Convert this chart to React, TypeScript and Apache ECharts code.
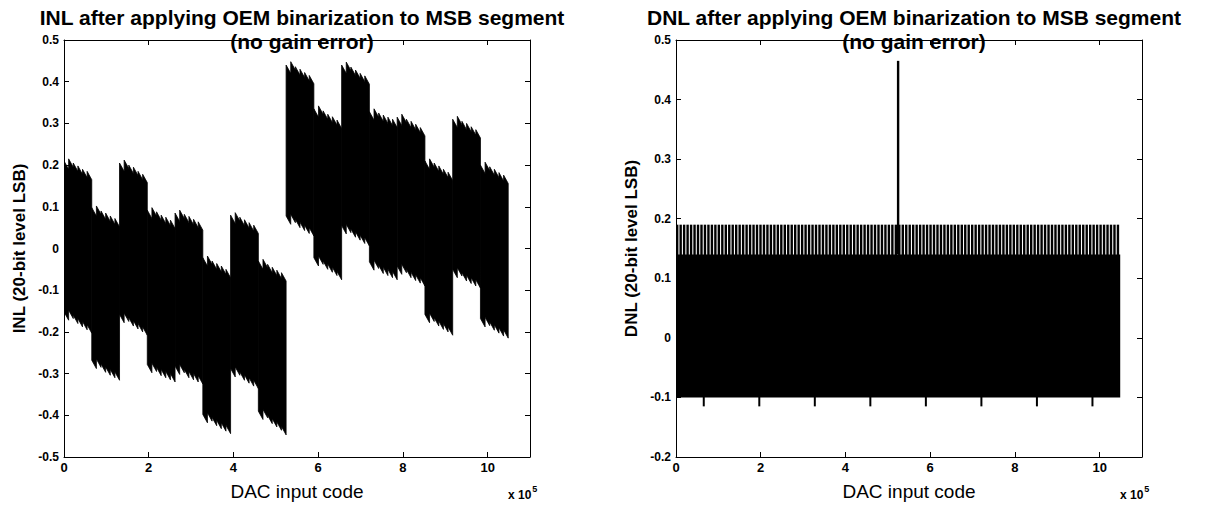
import React, { useEffect, useRef } from "react";
import * as echarts from "echarts";

// ---------- data ----------
const SEGMENT_CODES = 65536; // one MSB segment
const TOTAL_CODES = 1048576; // 2^20
const TOOTH_DROP = 0.02; // depth of each saw tooth (LSB)

// INL: upper envelope, tooth peaks (6 per MSB segment)
const INL_TOP: number[][] = [
  [0.21, 0.215, 0.205, 0.198, 0.19, 0.185],
  [0.098, 0.102, 0.09, 0.085, 0.078, 0.072],
  [0.205, 0.212, 0.2, 0.195, 0.185, 0.178],
  [0.092, 0.098, 0.088, 0.08, 0.075, 0.068],
  [0.085, 0.092, 0.082, 0.077, 0.07, 0.064],
  [-0.022, -0.018, -0.03, -0.036, -0.042, -0.05],
  [0.08, 0.086, 0.075, 0.069, 0.062, 0.056],
  [-0.03, -0.026, -0.038, -0.045, -0.052, -0.058],
  [0.44, 0.448, 0.436, 0.43, 0.422, 0.415],
  [0.335, 0.342, 0.33, 0.322, 0.316, 0.308],
  [0.44, 0.447, 0.435, 0.428, 0.42, 0.414],
  [0.328, 0.335, 0.325, 0.32, 0.315, 0.31],
  [0.315, 0.322, 0.31, 0.305, 0.298, 0.29],
  [0.21, 0.215, 0.205, 0.198, 0.19, 0.183],
  [0.31, 0.317, 0.305, 0.3, 0.292, 0.285],
  [0.2, 0.207, 0.196, 0.19, 0.182, 0.176],
];

// INL: lower envelope, tooth peaks (6 per MSB segment)
const INL_BOTTOM: number[][] = [
  [-0.152, -0.148, -0.16, -0.168, -0.175, -0.183],
  [-0.268, -0.265, -0.277, -0.284, -0.29, -0.296],
  [-0.158, -0.155, -0.166, -0.173, -0.18, -0.188],
  [-0.278, -0.275, -0.285, -0.29, -0.295, -0.3],
  [-0.282, -0.278, -0.29, -0.295, -0.3, -0.305],
  [-0.398, -0.394, -0.405, -0.412, -0.418, -0.424],
  [-0.288, -0.284, -0.296, -0.303, -0.31, -0.316],
  [-0.39, -0.386, -0.4, -0.408, -0.416, -0.427],
  [0.078, 0.082, 0.07, 0.063, 0.056, 0.05],
  [-0.022, -0.018, -0.03, -0.037, -0.045, -0.055],
  [0.055, 0.058, 0.047, 0.04, 0.032, 0.026],
  [-0.032, -0.028, -0.04, -0.045, -0.05, -0.055],
  [-0.042, -0.038, -0.05, -0.057, -0.063, -0.07],
  [-0.158, -0.155, -0.166, -0.174, -0.18, -0.188],
  [-0.05, -0.046, -0.058, -0.064, -0.07, -0.075],
  [-0.168, -0.165, -0.176, -0.183, -0.19, -0.195],
];

// DNL
const DNL_BAND = [-0.1, 0.14]; // solid body
const DNL_COMB_TOP = 0.19; // comb of spikes above the body
const DNL_COMB_STEP = 8192; // codes between comb spikes
const DNL_DOWN_SPIKES = [65536, 196608, 327680, 458752, 589824, 720896, 851968, 983040];
const DNL_DOWN_VALUE = -0.115;
const DNL_UP_SPIKE = [524288, 0.465];

// axes
const X_MAX = 1100000;
const X_INTERVAL = 200000;
const X_LABEL_MAX = 10; // last labelled tick (x 10^5)
const INL_Y = [-0.5, 0.5];
const DNL_Y = [-0.2, 0.5];
const Y_INTERVAL = 0.1;

const TITLES = [
  "INL after applying OEM binarization to MSB segment\n(no gain error)",
  "DNL after applying OEM binarization to MSB segment\n(no gain error)",
];
const Y_NAMES = ["INL (20-bit level LSB)", "DNL (20-bit level LSB)"];
const X_NAME = "DAC input code";

// ---------- layout ----------
const FONT = "Liberation Sans, Arial, sans-serif";
const GRIDS = [
  { left: 64, top: 40, width: 466, height: 419 },
  { left: 676, top: 40, width: 466, height: 419 },
];

export default function App() {
  const ref = useRef<HTMLDivElement>(null);

  useEffect(() => {
    if (!ref.current) return;
    const chart = echarts.init(ref.current, undefined, { renderer: "svg" });

    const xAxes: any[] = [];
    const yAxes: any[] = [];
    GRIDS.forEach((_, gi) => {
      const base = {
        type: "value",
        gridIndex: gi,
        min: 0,
        max: X_MAX,
        interval: X_INTERVAL,
        axisLine: { show: true, onZero: false, lineStyle: { color: "#000", width: 1 } },
        axisTick: { show: true, inside: true, length: 5, lineStyle: { color: "#000" } },
        splitLine: { show: false },
      };
      xAxes.push({
        ...base,
        position: "bottom",
        axisLabel: {
          show: true,
          color: "#000",
          fontFamily: FONT,
          fontWeight: "bold",
          fontSize: 13,
          margin: 4,
          formatter: (v: number) => {
            const n = Math.round(v / 1e5);
            return n > X_LABEL_MAX ? "" : String(n);
          },
        },
        name: X_NAME,
        nameLocation: "middle",
        nameGap: 25,
        nameTextStyle: { color: "#000", fontFamily: FONT, fontSize: 19 },
      });
      xAxes.push({ ...base, position: "top", axisLabel: { show: false } });
      const yr = gi === 0 ? INL_Y : DNL_Y;
      const ybase = {
        type: "value",
        gridIndex: gi,
        min: yr[0],
        max: yr[1],
        interval: Y_INTERVAL,
        axisLine: { show: true, onZero: false, lineStyle: { color: "#000", width: 1 } },
        axisTick: { show: true, inside: true, length: 5, lineStyle: { color: "#000" } },
        splitLine: { show: false },
      };
      yAxes.push({
        ...ybase,
        position: "left",
        axisLabel: {
          show: true,
          color: "#000",
          fontFamily: FONT,
          fontWeight: "bold",
          fontSize: 12,
          margin: 5,
          formatter: (v: number) => (Math.abs(v) < 1e-9 ? "0" : v.toFixed(1)),
        },
        name: Y_NAMES[gi],
        nameLocation: "middle",
        nameRotate: 90,
        nameGap: 36,
        nameTextStyle: { color: "#000", fontFamily: FONT, fontSize: 17, fontWeight: "bold" },
      });
      yAxes.push({ ...ybase, position: "right", axisLabel: { show: false } });
    });

    const black = { fill: "#000", stroke: "#000", lineWidth: 0.8 };

    const inlSeries = {
      type: "custom",
      xAxisIndex: 0,
      yAxisIndex: 0,
      clip: true,
      data: INL_TOP.map((_, k) => [k * SEGMENT_CODES, 0]),
      renderItem: (params: any, api: any) => {
        const k = params.dataIndex;
        const top = INL_TOP[k];
        const bot = INL_BOTTOM[k];
        const n = top.length;
        const x0 = k * SEGMENT_CODES;
        const w = SEGMENT_CODES / n;
        const pts: number[][] = [];
        for (let i = 0; i < n; i++) {
          pts.push(api.coord([x0 + i * w, top[i]]));
          pts.push(api.coord([x0 + (i + 1) * w, top[i] - TOOTH_DROP]));
        }
        for (let i = n - 1; i >= 0; i--) {
          pts.push(api.coord([x0 + (i + 1) * w, bot[i] - TOOTH_DROP]));
          pts.push(api.coord([x0 + i * w, bot[i]]));
        }
        return { type: "polygon", shape: { points: pts }, style: black };
      },
    };

    const combData: number[][] = [];
    for (let x = 0; x < TOTAL_CODES; x += DNL_COMB_STEP) combData.push([x, DNL_COMB_TOP]);

    const dnlBody = {
      type: "custom",
      xAxisIndex: 2,
      yAxisIndex: 2,
      data: [[0, DNL_BAND[0], TOTAL_CODES, DNL_BAND[1]]],
      renderItem: (params: any, api: any) => {
        const p0 = api.coord([api.value(0), api.value(3)]);
        const p1 = api.coord([api.value(2), api.value(1)]);
        return {
          type: "rect",
          shape: { x: p0[0], y: p0[1], width: p1[0] - p0[0], height: p1[1] - p0[1] },
          style: { fill: "#000" },
        };
      },
    };

    const dnlComb = {
      type: "custom",
      xAxisIndex: 2,
      yAxisIndex: 2,
      data: combData,
      renderItem: (params: any, api: any) => {
        const p0 = api.coord([api.value(0), api.value(1)]);
        const p1 = api.coord([api.value(0), DNL_BAND[1]]);
        return {
          type: "rect",
          shape: { x: p0[0], y: p0[1], width: 2.4, height: p1[1] - p0[1] + 1 },
          style: { fill: "#000" },
        };
      },
    };

    const dnlDown = {
      type: "custom",
      xAxisIndex: 2,
      yAxisIndex: 2,
      data: DNL_DOWN_SPIKES.map((x) => [x, DNL_DOWN_VALUE]),
      renderItem: (params: any, api: any) => {
        const p0 = api.coord([api.value(0), DNL_BAND[0]]);
        const p1 = api.coord([api.value(0), api.value(1)]);
        return {
          type: "rect",
          shape: { x: p0[0] - 1, y: p0[1] - 1, width: 2, height: p1[1] - p0[1] + 1 },
          style: { fill: "#000" },
        };
      },
    };

    const dnlUp = {
      type: "custom",
      xAxisIndex: 2,
      yAxisIndex: 2,
      data: [DNL_UP_SPIKE],
      renderItem: (params: any, api: any) => {
        const p0 = api.coord([api.value(0), api.value(1)]);
        const p1 = api.coord([api.value(0), DNL_BAND[1]]);
        return {
          type: "rect",
          shape: { x: p0[0] - 1.2, y: p0[1], width: 2.4, height: p1[1] - p0[1] },
          style: { fill: "#000" },
        };
      },
    };

    const titleCfg = GRIDS.map((g, i) => ({
      text: TITLES[i],
      left: g.left + g.width / 2,
      top: 0,
      textAlign: "center",
      textStyle: {
        color: "#000",
        fontFamily: FONT,
        fontWeight: "bold",
        fontSize: 21,
        lineHeight: 24,
      },
    }));

    const expLabels = GRIDS.map((g) => ({
      type: "text",
      left: g.left + g.width - 22,
      top: 484,
      style: {
        text: "{a|x 10}{b|5}",
        rich: {
          a: { fontFamily: FONT, fontWeight: "bold", fontSize: 12, fill: "#000", verticalAlign: "bottom" },
          b: { fontFamily: FONT, fontWeight: "bold", fontSize: 9, fill: "#000", verticalAlign: "top", padding: [0, 0, 8, 1] },
        },
      },
    }));

    chart.setOption({
      animation: false,
      backgroundColor: "#fff",
      title: titleCfg,
      grid: GRIDS.map((g) => ({ ...g, containLabel: false })),
      xAxis: xAxes,
      yAxis: yAxes,
      graphic: expLabels,
      series: [inlSeries, dnlBody, dnlComb, dnlDown, dnlUp],
    });

    return () => chart.dispose();
  }, []);

  return <div ref={ref} style={{ width: 1217, height: 506, position: "absolute", left: 0, top: 0 }} />;
}
